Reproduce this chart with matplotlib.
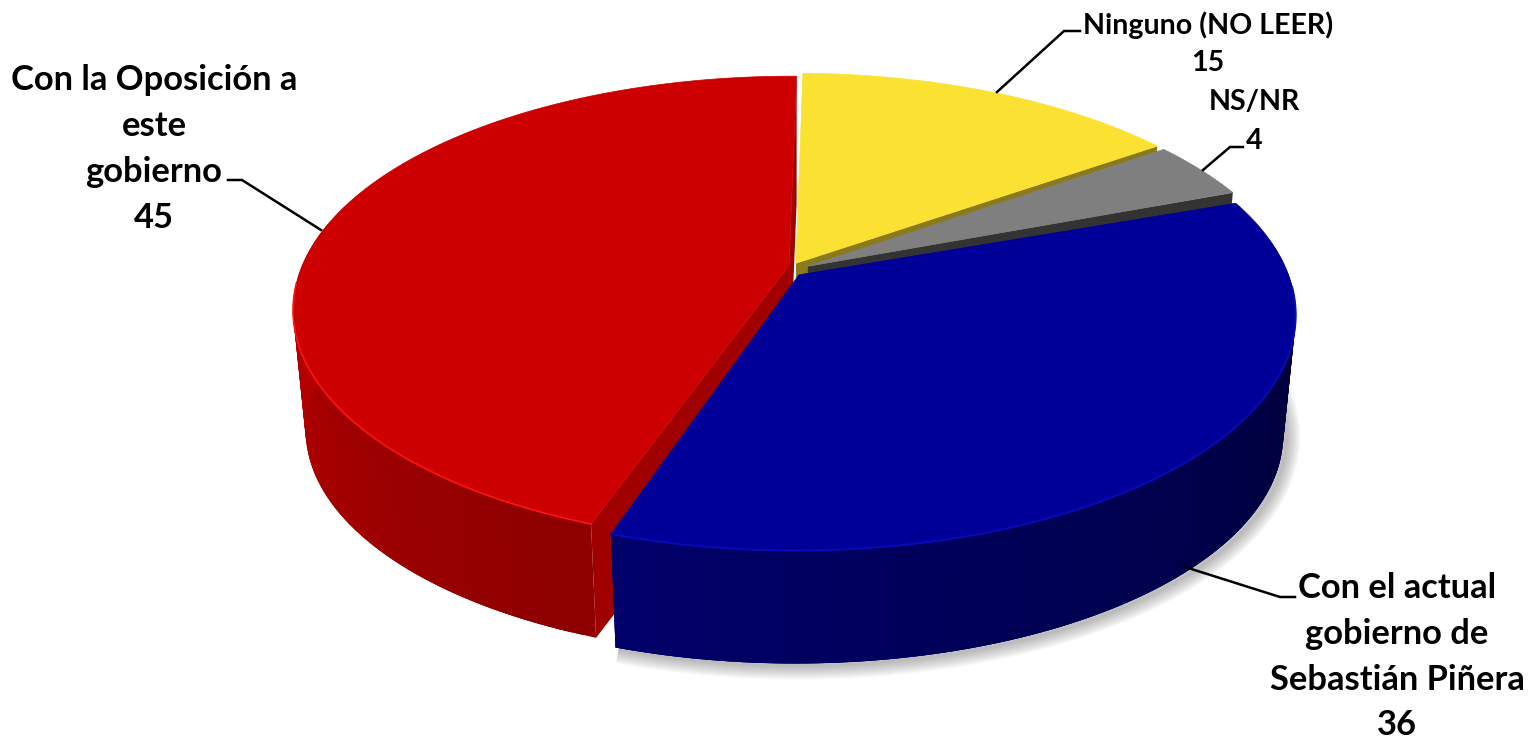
import numpy as np
import matplotlib
matplotlib.use('Agg')
import matplotlib.pyplot as plt
from matplotlib.colors import to_rgb

# slices, clockwise from the top of the pie
labels = ['Ninguno (NO LEER)', 'NS/NR', 'Con el actual\ngobierno de\nSebastián Piñera', 'Con la Oposición a\neste\ngobierno']
values = [15, 4, 36, 45]
top_colors = ['#FBE232', '#7F7F7F', '#000099', '#CC0000']
cut_colors = ['#8A7A1C', '#333333', '#000060', '#A00000']
wall_start = ['#8A7A1C', '#404040', '#00003A', '#8C0000']
wall_end = ['#8A7A1C', '#404040', '#00006A', '#BC0000']
rim_colors = [None, None, '#0A0ABE', '#FF1414']
shift_u = [0.004, 0.016, 0.002, -0.004]
shift_v = [-0.03, -0.012, 0.008, -0.012]
# small angular gaps so slices do not touch (degrees)
pad_start = [1.0, 0.8, 3.0, 1.8]
pad_end = [0.8, 1.0, 0.0, 0.6]
# extra nudge of the slice tip, in pixels
tip_dx = [0, 6, 4, -3]
tip_dy = [0, -1, 3, -2]
draw_order = [0, 1, 3, 2]

# projection of the pie disc on to the picture
CX, CY = 794, 270
SCALE_X, SCALE_Y, PERSP = 491.6, 227, 0.183


def project(u, v):
    s = 1 / (1 - PERSP * v)
    return CX + SCALE_X * u * s, CY + SCALE_Y * v * s


def lower(x, y):
    # same point on the underside of the pie
    return CX + (x - CX) * 0.975, CY + (y - CY) * 0.97 + 121.4


def arc(t0, t1, su, sv, n=120):
    t = np.radians(np.linspace(t0, t1, n))
    return project(np.sin(t) + su, -np.cos(t) + sv)


fig = plt.figure(figsize=(15.37, 7.38), dpi=100)
ax = fig.add_axes([0, 0, 1, 1])
ax.set_xlim(0, 1537)
ax.set_ylim(738, 0)
ax.axis('off')

edges = np.cumsum([0] + values) / sum(values) * 360

# soft shadow below the blue slice
bx, by = lower(*arc(edges[2] + 12, edges[3], shift_u[2], shift_v[2]))
for w in np.arange(20, 1, -2.0):
    ax.plot(bx + 3, by + 2, color='#303030', lw=w, alpha=0.035, zorder=1, solid_capstyle='butt')

order = 2
for i in draw_order:
    t0, t1 = edges[i] + pad_start[i], edges[i + 1] + pad_end[i]
    su, sv = shift_u[i], shift_v[i]
    ax_, ay_ = project(su, sv)
    ax_, ay_ = ax_ + tip_dx[i], ay_ + tip_dy[i]
    x, y = arc(t0, t1, su, sv)
    xb, yb = lower(x, y)
    apx_b, apy_b = lower(ax_, ay_)

    # outer wall, in narrow overlapping strips to get the shading
    tm = np.linspace(t0, t1, len(x))
    c0, c1 = np.array(to_rgb(wall_start[i])), np.array(to_rgb(wall_end[i]))
    for j in range(len(x) - 1):
        if np.cos(np.radians(tm[j])) > 0.15:
            continue
        k = min(j + 3, len(x) - 1)
        if i == 3:
            f = min(1, (tm[j] - t0) / 80)
            col = c0 + (c1 - c0) * f
        elif i == 2:
            f = max(0, (tm[j] - 100) / (t1 - 100))
            col = c0 + (c1 - c0) * f
        else:
            col = c0
        ax.fill([x[j], x[k], xb[k], xb[j]], [y[j], y[k], yb[k], yb[j]],
                color=col, lw=0, zorder=order)

    # cut faces between the slices
    if i == 3:
        ax.fill([ax_, x[-1], xb[-1], apx_b], [ay_, y[-1], yb[-1], apy_b],
                color=cut_colors[i], lw=0, zorder=order)
        ax.fill([ax_, x[0], xb[0], apx_b], [ay_, y[0], yb[0], apy_b],
                color=cut_colors[i], lw=0, zorder=order)
    elif i < 2:
        ax.fill([ax_, x[-1], xb[-1], apx_b], [ay_, y[-1], yb[-1], apy_b],
                color=cut_colors[i], lw=0, zorder=order)

    # top face
    ax.fill(np.r_[ax_, x], np.r_[ay_, y], color=top_colors[i], lw=0.5, zorder=order + 0.5)
    if rim_colors[i]:
        keep = np.cos(np.radians(tm)) < -0.05
        ax.plot(x[keep], y[keep], color=rim_colors[i], lw=1.2, zorder=order + 0.6)
    order += 1

# leader lines
line_kw = dict(color='black', lw=1.8, zorder=10, solid_joinstyle='miter')
ax.plot([997, 1064, 1080], [92, 31, 31], **line_kw)
ax.plot([1203, 1230, 1243], [170, 147, 147], **line_kw)
ax.plot([1185, 1280, 1295], [567, 597, 597], **line_kw)
ax.plot([321, 242, 228], [230, 180, 180], **line_kw)

# labels
big = dict(family='Lato', fontweight='bold', color='black', ha='center', va='center', zorder=11)
font_big, font_small = 24.8, 20.6
ax.text(1208, 25, labels[0], fontsize=font_small, **big)
ax.text(1208, 63, str(values[0]), fontsize=font_small, **big)
ax.text(1254, 102, labels[1], fontsize=font_small, **big)
ax.text(1254, 141, str(values[1]), fontsize=font_small, **big)
ax.text(1397, 588, 'Con el actual', fontsize=font_big, **big)
ax.text(1397, 634, 'gobierno de', fontsize=font_big, **big)
ax.text(1397, 680, 'Sebastián Piñera', fontsize=font_big, **big)
ax.text(1397, 725, str(values[2]), fontsize=font_big, **big)
ax.text(154, 80, 'Con la Oposición a', fontsize=font_big, **big)
ax.text(154, 126, 'este', fontsize=font_big, **big)
ax.text(154, 172, 'gobierno', fontsize=font_big, **big)
ax.text(154, 218, str(values[3]), fontsize=font_big, **big)

fig.savefig('out.png', dpi=100)
